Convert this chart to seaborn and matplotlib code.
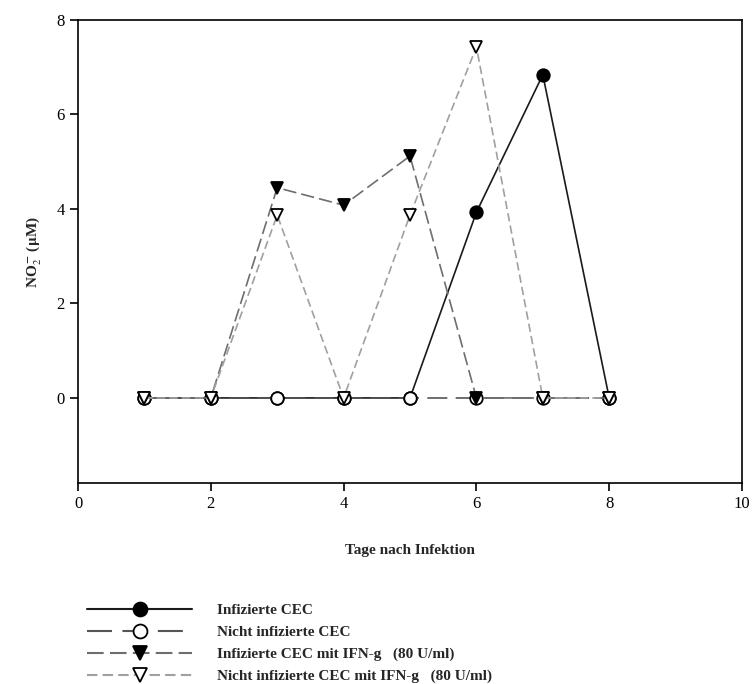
import matplotlib
matplotlib.use("Agg")
import matplotlib.pyplot as plt
import seaborn as sns
import pandas as pd
from matplotlib.lines import Line2D

days = [1, 2, 3, 4, 5, 6, 7, 8]
infiziert = [0, 0, 0, 0, 0, 3.93, 6.84, 0]
nicht_infiziert = [0, 0, 0, 0, 0, 0, 0, 0]
infiziert_ifn = [0, 0, 4.45, 4.08, 5.12, 0, 0, 0]
nicht_infiziert_ifn = [0, 0, 3.87, 0, 3.87, 7.43, 0, 0]

labels = ["Infizierte CEC",
          "Nicht infizierte CEC",
          "Infizierte CEC mit IFN-g   (80 U/ml)",
          "Nicht infizierte CEC mit IFN-g   (80 U/ml)"]

sns.set_theme(style="ticks")
plt.rcParams['font.family'] = ['Liberation Serif', 'DejaVu Serif']
plt.rcParams['mathtext.fontset'] = 'stix'

fig = plt.figure(figsize=(7.53, 6.84), dpi=100)
ax = fig.add_axes([0.1036, 0.2939, 0.8818, 0.6769])

styles = [
    dict(color="#1a1a1a", dashes=None, marker="o", mfc="black", zorder=1),
    dict(color="#555555", dashes=(12, 5), marker="o", mfc="white", zorder=2),
    dict(color="#6e6e6e", dashes=(8, 3), marker="v", mfc="black", zorder=3),
    dict(color="#a0a0a0", dashes=(5, 2.5), marker="v", mfc="white", zorder=4),
]
series = [infiziert, nicht_infiziert, infiziert_ifn, nicht_infiziert_ifn]

handles = []
for vals, lab, st in zip(series, labels, styles):
    df = pd.DataFrame({"Tag": days, "NO2": vals})
    sns.lineplot(data=df, x="Tag", y="NO2", ax=ax, color=st["color"],
                 linewidth=1.2, marker=st["marker"], markersize=9,
                 markerfacecolor=st["mfc"], markeredgecolor="black",
                 markeredgewidth=1.3, zorder=st["zorder"], legend=False)
    line = ax.get_lines()[-1]
    if st["dashes"] is not None:
        line.set_dashes(st["dashes"])
    h = Line2D([0], [0], color=st["color"], linewidth=1.5,
               marker=st["marker"], markersize=10, markerfacecolor=st["mfc"],
               markeredgecolor="black", markeredgewidth=1.3)
    if st["dashes"] is not None:
        h.set_dashes(st["dashes"])
    handles.append(h)

ax.set_xlim(0, 10)
ax.set_ylim(-1.8, 8)
ax.set_xticks([0, 2, 4, 6, 8, 10])
ax.set_yticks([0, 2, 4, 6, 8])
for s in ax.spines.values():
    s.set_color("black")
    s.set_linewidth(1.2)
ax.tick_params(direction="out", length=6, width=1.2, labelsize=12, colors="black")
ax.set_xlabel("Tage nach Infektion", fontsize=11, fontweight="bold", labelpad=23)
ax.set_ylabel(r"NO$_2^{\,\mathbf{-}}$ ($\mathbf{\mu}$M)", fontsize=11, fontweight="bold", labelpad=9)

leg = fig.legend(handles=handles, labels=labels, loc="upper left",
                 bbox_to_anchor=(0.1155, 0.118), frameon=False,
                 borderpad=0, borderaxespad=0,
                 handlelength=6.9, handletextpad=1.6, labelspacing=0.54,
                 prop={"family": "Liberation Serif", "weight": "bold", "size": 11})

fig.savefig("out.png", dpi=100)
